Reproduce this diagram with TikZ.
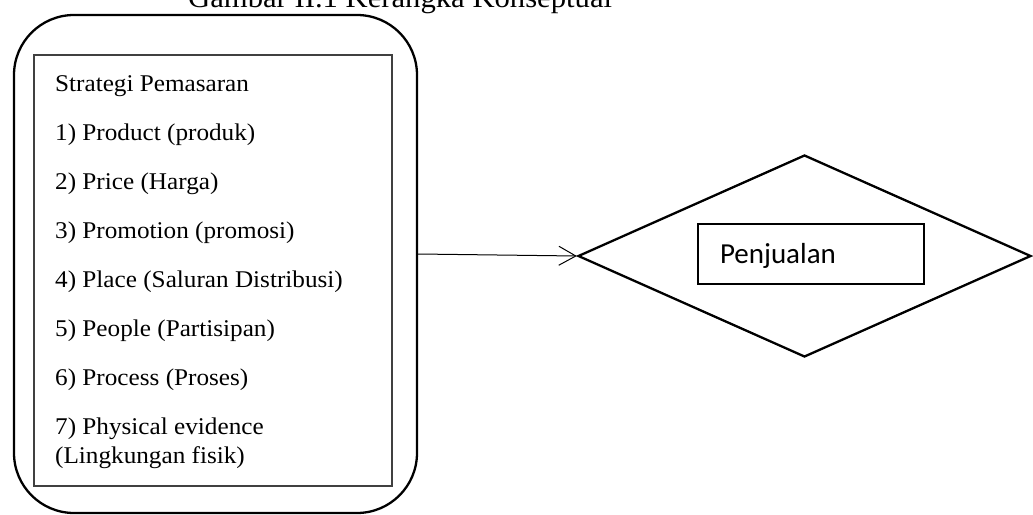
\documentclass[tikz,border=0pt]{standalone}
\usepackage{fontspec}
\setmainfont[FakeStretch=1.05]{Liberation Serif}
\newfontfamily\calfont{Carlito}
\usetikzlibrary{arrows.meta,shapes.geometric}
\tikzset{
  listtext/.style={anchor=base west, inner sep=0pt, font=\fontsize{24}{28}\selectfont},
  thick line/.style={line width=2.3pt},
}
\begin{document}
\begin{tikzpicture}[x=1pt,y=-1pt]
\useasboundingbox (0,0) rectangle (1033,514);
\clip (0,0) rectangle (1033,514);
\fill[white] (0,0) rectangle (1033,514);
% title (cut off at top)
\node[anchor=base west, inner sep=0pt, font=\fontsize{29.2}{33}\selectfont] (title) at (188,8) {Gambar II.1 Kerangka Konseptual};
% outer rounded box
\node[draw, thick line, rounded corners=60pt, minimum width=403pt, minimum height=498pt, inner sep=0pt] (outer) at (215.5,264) {};
% inner rectangle
\node[draw, line width=1.2pt, draw={rgb,255:red,64;green,64;blue,64}, minimum width=358pt, minimum height=431pt, inner sep=0pt] (inner) at (213,270.5) {};
% list
\node[listtext] (t0) at (55,91) {Strategi Pemasaran};
\node[listtext] (t1) at (55,140.1) {1) Product (produk)};
\node[listtext] (t2) at (55,189.2) {2) Price (Harga)};
\node[listtext] (t3) at (55,238.3) {3) Promotion (promosi)};
\node[listtext] (t4) at (55,287.4) {4) Place (Saluran Distribusi)};
\node[listtext] (t5) at (55,336.5) {5) People (Partisipan)};
\node[listtext] (t6) at (55,385.6) {6) Process (Proses)};
\node[listtext] (t7) at (55,434.7) {7) Physical evidence};
\node[listtext] (t7b) at (55,463) {(Lingkungan fisik)};
% diamond
\node[draw, thick line, diamond, minimum width=453pt, minimum height=202pt, inner sep=0pt] (dia) at (804.5,256) {};
% Penjualan box
\node[draw, line width=1.2pt, minimum width=226pt, minimum height=60pt, inner xsep=22pt, text width=182pt, text height=22pt, text depth=4pt, align=left, font=\calfont\fontsize{29}{34}\selectfont] (pen) at (811,254) {Penjualan};
% arrow
\draw[line width=1pt, -{Straight Barb[length=17pt,width=19pt,line width=1pt]}] ([yshift=10pt]outer.east) -- (dia.west);
\end{tikzpicture}
\end{document}
